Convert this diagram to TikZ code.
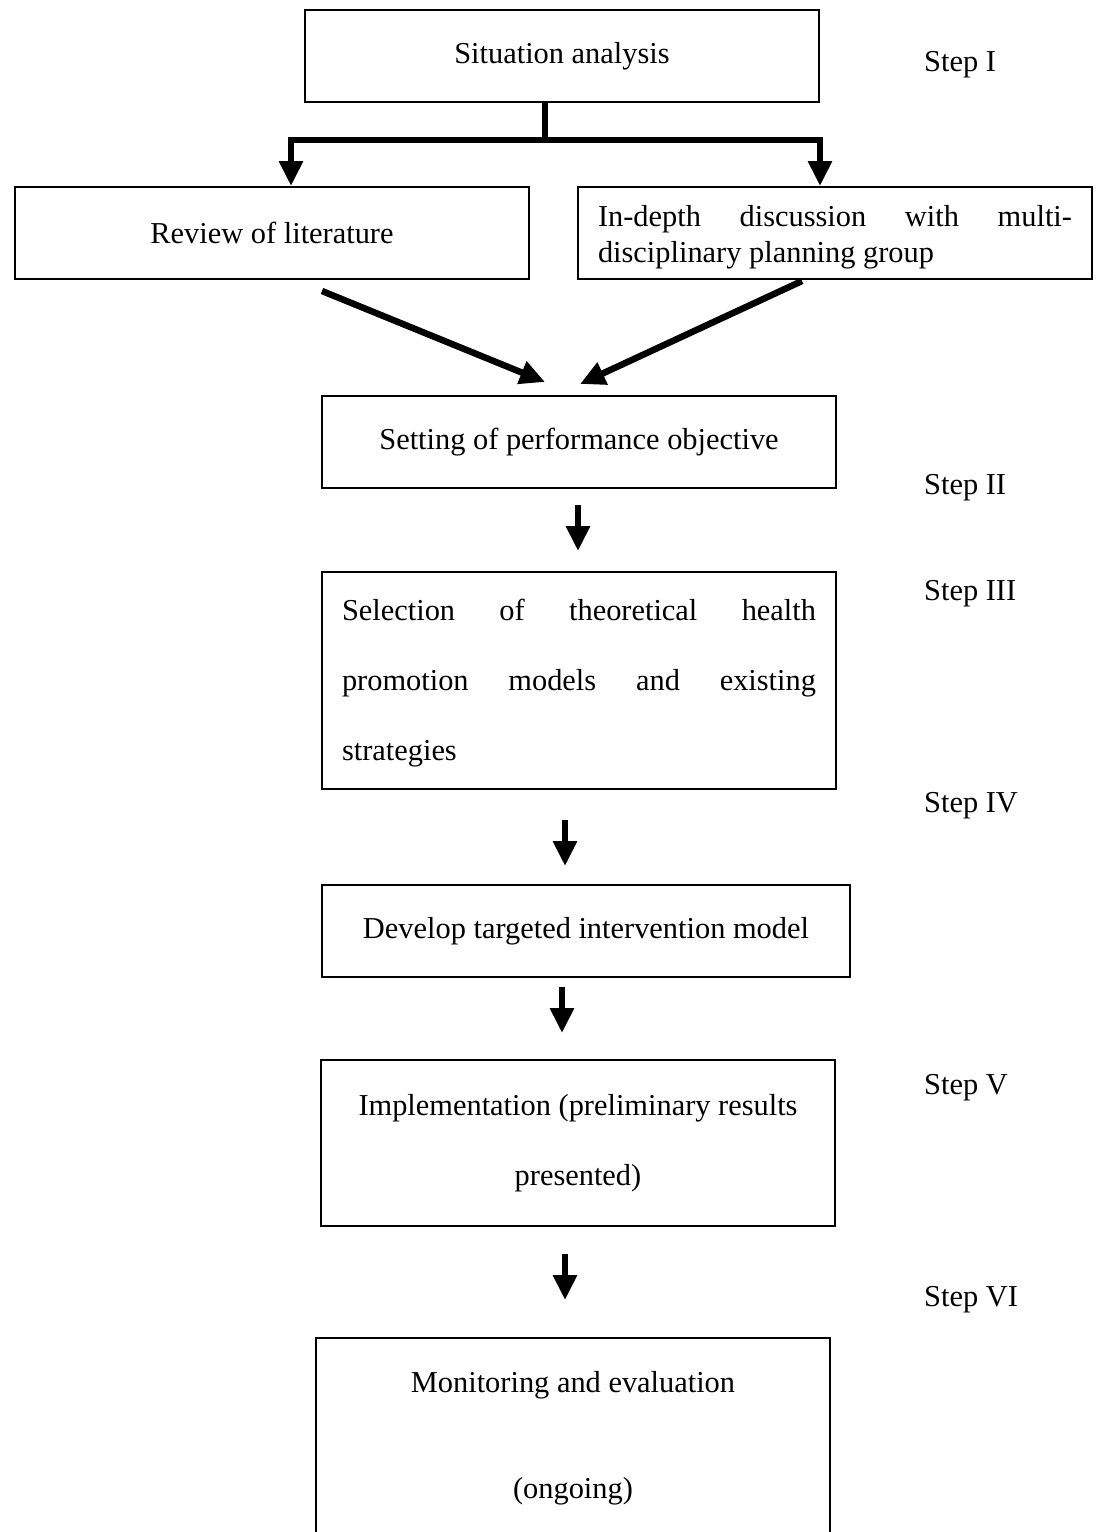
\documentclass[tikz,border=0pt]{standalone}
\usepackage{fontspec}
\setmainfont{Liberation Serif}
\usetikzlibrary{arrows.meta}
\begin{document}
\begin{tikzpicture}[x=1pt,y=-1pt,
  box/.style={draw,line width=2pt,minimum width=514pt,minimum height=92pt,inner sep=0pt,
    font=\fontsize{30.4}{36.5}\selectfont,align=center},
  steplabel/.style={anchor=west,inner sep=0pt,font=\fontsize{30.4}{36.5}\selectfont},
  conn/.style={line width=6pt,-{Triangle[length=25pt,width=23pt]}},
  stem/.style={line width=6pt}]
\useasboundingbox (0,0) rectangle (1097,1532);
% boxes
\node[box] (sit) at (562,56) {Situation analysis};
\node[box] (rev) at (272,233) {Review of literature};
\node[box,text width=474pt,align=justify] (disc) at (835,233) {};
\node[text width=474pt,align=justify,inner sep=0pt,font=\fontsize{30.4}{36.5}\selectfont]
  (disct) at (835,237)
  {In-depth discussion with multi-\linebreak disciplinary planning group};
\node[box] (set) at (579,442) {Setting of performance objective};
\node[box,minimum height=217pt] (sel) at (579,680.5) {};
\node[text width=474pt,align=justify,inner sep=0pt,font=\fontsize{30.4}{70}\selectfont]
  (selt) at (579,683)
  {Selection of theoretical health\linebreak promotion models and existing\linebreak strategies};
\node[box,minimum width=528pt] (dev) at (586,931) {Develop targeted intervention model};
\node[box,minimum height=166pt,font=\fontsize{30.4}{70}\selectfont] (imp) at (578,1143)
  {Implementation (preliminary results\\presented)};
\node[box,minimum height=200pt,font=\fontsize{30.4}{106}\selectfont] (mon) at (573,1438)
  {Monitoring and evaluation\\(ongoing)};
% step labels
\node[steplabel] (s1) at (924,65) {Step I};
\node[steplabel] (s2) at (924,488) {Step II};
\node[steplabel] (s3) at (924,594) {Step III};
\node[steplabel] (s4) at (924,806) {Step IV};
\node[steplabel] (s5) at (924,1088) {Step V};
\node[steplabel] (s6) at (924,1300) {Step VI};
% connectors from the situation box
\coordinate (j) at (545,140);
\coordinate (jl) at (291,140);
\coordinate (jr) at (820,140);
\draw[stem] (sit.south -| j) -- (j);
\draw[conn,line join=miter] (j) -| (jl |- rev.north);
\draw[conn,line join=miter] (j) -| (jr |- disc.north);
% diagonal arrows
\coordinate (d1s) at (322,291);
\coordinate (d1e) at (545,382);
\coordinate (d2s) at (802,281);
\coordinate (d2e) at (580,384);
\draw[conn,line width=6.5pt] (d1s) -- (d1e);
\draw[conn,line width=6.5pt] (d2s) -- (d2e);
% vertical arrows
\coordinate (a1s) at (578,505); \coordinate (a1e) at (578,551);
\coordinate (a2s) at (565,820); \coordinate (a2e) at (565,866);
\coordinate (a3s) at (562,987); \coordinate (a3e) at (562,1033);
\coordinate (a4s) at (565,1254); \coordinate (a4e) at (565,1300);
\draw[conn] (a1s) -- (a1e);
\draw[conn] (a2s) -- (a2e);
\draw[conn] (a3s) -- (a3e);
\draw[conn] (a4s) -- (a4e);
\end{tikzpicture}
\end{document}
